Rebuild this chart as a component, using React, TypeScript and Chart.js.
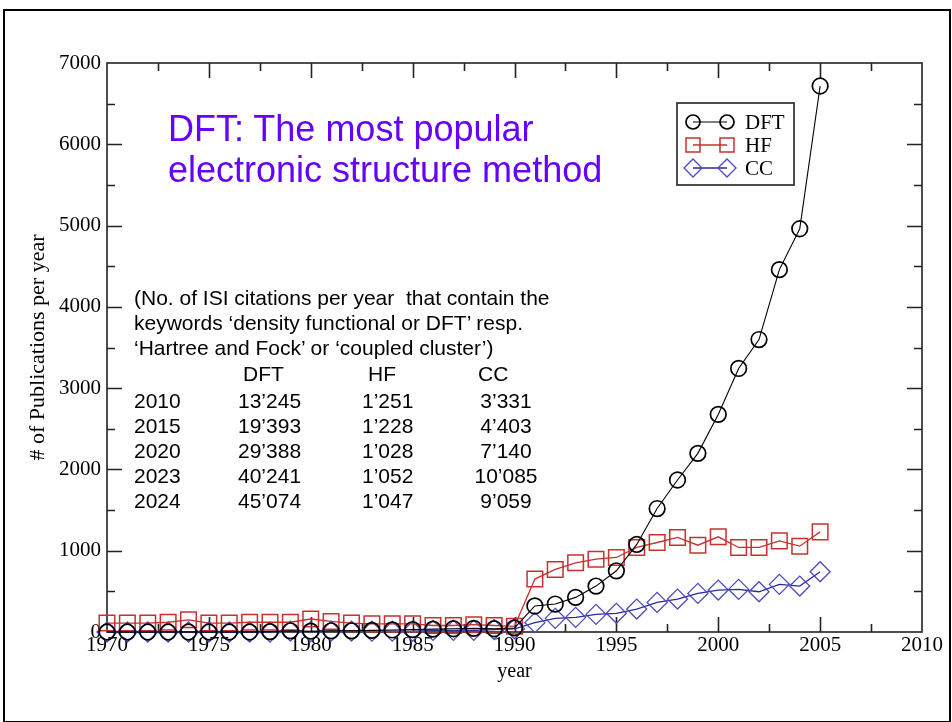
import React, { useEffect, useRef } from 'react';
import { Chart, registerables } from 'chart.js';

Chart.register(...registerables);

// ---------- data ----------
const years = [
  1970, 1971, 1972, 1973, 1974, 1975, 1976, 1977, 1978, 1979,
  1980, 1981, 1982, 1983, 1984, 1985, 1986, 1987, 1988, 1989,
  1990, 1991, 1992, 1993, 1994, 1995, 1996, 1997, 1998, 1999,
  2000, 2001, 2002, 2003, 2004, 2005,
];
const dftValues = [
  0, 0, 0, 0, 0, 0, 0, 0, 5, 15,
  10, 15, 15, 20, 25, 30, 35, 40, 45, 40,
  50, 320, 344, 426, 565, 753, 1077, 1519, 1870, 2198,
  2677, 3242, 3598, 4458, 4961, 6717,
];
const hfValues = [
  110, 110, 110, 120, 150, 110, 110, 120, 120, 120,
  160, 130, 110, 100, 100, 100, 80, 80, 90, 80,
  70, 651, 770, 851, 896, 917, 1040, 1101, 1163, 1068,
  1171, 1040, 1040, 1121, 1056, 1232,
];
const ccValues = [
  0, 0, 0, 0, 0, 0, 0, 0, 0, 10,
  5, 10, 10, 10, 10, 10, 20, 20, 20, 30,
  40, 115, 168, 180, 217, 230, 282, 364, 405, 475,
  516, 524, 495, 586, 565, 741,
];
const seriesNames = ['DFT', 'HF', 'CC'];
const xTickValues = [1970, 1975, 1980, 1985, 1990, 1995, 2000, 2005, 2010];
const yTickValues = [0, 1000, 2000, 3000, 4000, 5000, 6000, 7000];
const xMinorStep = 2.5;
const yMinorStep = 500;

const titleLines = ['DFT: The most popular', 'electronic structure method'];
const noteLines = [
  '(No. of ISI citations per year  that contain the',
  'keywords \u2018density functional or DFT\u2019 resp.',
  '\u2018Hartree and Fock\u2019 or \u2018coupled cluster\u2019)',
];
const tableHeader = ['DFT', 'HF', 'CC'];
const tableYears = ['2010', '2015', '2020', '2023', '2024'];
const tableDFT = ['13\u2019245', '19\u2019393', '29\u2019388', '40\u2019241', '45\u2019074'];
const tableHF = ['1\u2019251', '1\u2019228', '1\u2019028', '1\u2019052', '1\u2019047'];
const tableCC = ['3\u2019331', '4\u2019403', '7\u2019140', '10\u2019085', '9\u2019059'];

// ---------- styles ----------
const SERIF = '"Liberation Serif", "Times New Roman", Times, serif';
const SANS = '"Liberation Sans", Arial, Helvetica, sans-serif';
const RED = '#c83030';
const BLUE = '#2a2a9c';

const framePlugin = {
  id: 'frameTicks',
  beforeDatasetsDraw(chart: any) {
    const { ctx, chartArea, scales } = chart;
    const { left, right, top, bottom } = chartArea;
    const x = scales.x;
    const y = scales.y;
    ctx.save();
    ctx.strokeStyle = '#222';
    ctx.lineWidth = 1.6;
    ctx.strokeRect(left, top, right - left, bottom - top);
    ctx.beginPath();
    for (let v = x.min + xMinorStep; v < x.max - 0.01; v += xMinorStep) {
      const px = Math.round(x.getPixelForValue(v)) + 0.5;
      const len = Math.abs(v % 5) < 0.01 ? 15 : 8;
      ctx.moveTo(px, bottom);
      ctx.lineTo(px, bottom - len);
      ctx.moveTo(px, top);
      ctx.lineTo(px, top + len);
    }
    for (let v = y.min + yMinorStep; v < y.max - 0.01; v += yMinorStep) {
      const py = Math.round(y.getPixelForValue(v)) + 0.5;
      const len = v % 1000 === 0 ? 15 : 8;
      ctx.moveTo(left, py);
      ctx.lineTo(left + len, py);
      ctx.moveTo(right, py);
      ctx.lineTo(right - len, py);
    }
    ctx.stroke();
    ctx.restore();
  },
};

function drawMarker(ctx: CanvasRenderingContext2D, style: string, cx: number, cy: number, r: number) {
  ctx.beginPath();
  if (style === 'circle') {
    ctx.arc(cx, cy, r, 0, Math.PI * 2);
  } else if (style === 'rect') {
    const s = r * Math.SQRT1_2;
    ctx.rect(cx - s, cy - s, 2 * s, 2 * s);
  } else {
    ctx.moveTo(cx - r, cy);
    ctx.lineTo(cx, cy - r);
    ctx.lineTo(cx + r, cy);
    ctx.lineTo(cx, cy + r);
    ctx.closePath();
  }
  ctx.stroke();
}

const legendPlugin = {
  id: 'boxLegend',
  afterDraw(chart: any) {
    const { ctx } = chart;
    const bx = 677, by = 103, bw = 117, bh = 82;
    ctx.save();
    ctx.fillStyle = '#fff';
    ctx.fillRect(bx, by, bw, bh);
    ctx.strokeStyle = '#222';
    ctx.lineWidth = 1.6;
    ctx.strokeRect(bx, by, bw, bh);
    chart.data.datasets.forEach((ds: any, i: number) => {
      const cy = by + 19 + i * 23;
      const x1 = bx + 16, x2 = bx + 50;
      ctx.strokeStyle = ds.borderColor;
      ctx.lineWidth = ds.borderWidth;
      ctx.beginPath();
      ctx.moveTo(x1, cy);
      ctx.lineTo(x2, cy);
      ctx.stroke();
      ctx.strokeStyle = ds.pointBorderColor;
      ctx.lineWidth = ds.pointBorderWidth;
      const r = ds.pointRadius * 0.9;
      drawMarker(ctx, ds.pointStyle, x1, cy, r);
      drawMarker(ctx, ds.pointStyle, x2, cy, r);
      ctx.fillStyle = '#000';
      ctx.font = `21px ${SERIF}`;
      ctx.textBaseline = 'middle';
      ctx.textAlign = 'left';
      ctx.fillText(ds.label, bx + 68, cy + 1);
    });
    ctx.restore();
  },
};

export default function App() {
  const canvasRef = useRef<HTMLCanvasElement>(null);

  useEffect(() => {
    const canvas = canvasRef.current;
    if (!canvas) return;
    const mk = (vals: number[]) => years.map((yr, i) => ({ x: yr, y: vals[i] }));
    const chart = new Chart(canvas, {
      type: 'scatter',
      data: {
        datasets: [
          {
            label: seriesNames[0],
            data: mk(dftValues),
            showLine: true,
            borderColor: '#000',
            borderWidth: 1.1,
            pointStyle: 'circle',
            pointRadius: 7.8,
            pointBorderColor: '#000',
            pointBackgroundColor: 'rgba(0,0,0,0)',
            pointBorderWidth: 1.7,
            clip: false,
          },
          {
            label: seriesNames[1],
            data: mk(hfValues),
            showLine: true,
            borderColor: RED,
            borderWidth: 1.3,
            pointStyle: 'rect',
            pointRadius: 11,
            pointBorderColor: RED,
            pointBackgroundColor: 'rgba(0,0,0,0)',
            pointBorderWidth: 1.5,
            clip: false,
          },
          {
            label: seriesNames[2],
            data: mk(ccValues),
            showLine: true,
            borderColor: BLUE,
            borderWidth: 1.3,
            pointStyle: 'rectRot',
            pointRadius: 10,
            pointBorderColor: '#4a4ac0',
            pointBackgroundColor: 'rgba(0,0,0,0)',
            pointBorderWidth: 1.3,
            clip: false,
          },
        ] as any,
      },
      options: {
        animation: false,
        responsive: false,
        maintainAspectRatio: false,
        devicePixelRatio: 1,
        layout: { padding: { left: 0, right: 30, top: 63, bottom: 0 } },
        plugins: {
          legend: { display: false },
          tooltip: { enabled: false },
        },
        scales: {
          x: {
            type: 'linear',
            min: xTickValues[0],
            max: xTickValues[xTickValues.length - 1],
            afterBuildTicks: (s: any) => {
              s.ticks = xTickValues.map((v) => ({ value: v }));
            },
            afterFit: (s: any) => {
              s.height = 90;
            },
            grid: { display: false, drawTicks: false },
            border: { display: false },
            ticks: {
              padding: 1,
              color: '#000',
              maxRotation: 0,
              autoSkip: false,
              font: { family: SERIF, size: 21 },
              callback: (v: any) => String(v),
            },
            title: {
              display: true,
              text: 'year',
              color: '#000',
              font: { family: SERIF, size: 20 },
              padding: { top: 0, bottom: 38 },
            },
          },
          y: {
            type: 'linear',
            min: yTickValues[0],
            max: yTickValues[yTickValues.length - 1],
            afterBuildTicks: (s: any) => {
              s.ticks = yTickValues.map((v) => ({ value: v }));
            },
            afterFit: (s: any) => {
              s.width = 107;
            },
            grid: { display: false, drawTicks: false },
            border: { display: false },
            ticks: {
              padding: 6,
              color: '#000',
              autoSkip: false,
              font: { family: SERIF, size: 21 },
              callback: (v: any) => String(v),
            },
            title: {
              display: true,
              text: '# of Publications per year',
              color: '#000',
              font: { family: SERIF, size: 22 },
              padding: { top: 25, bottom: 0 },
            },
          },
        },
      } as any,
      plugins: [framePlugin, legendPlugin],
    });
    return () => chart.destroy();
  }, []);

  const abs = (left: number, top: number, extra: any = {}) => ({
    position: 'absolute' as const,
    left,
    top,
    whiteSpace: 'pre' as const,
    ...extra,
  });

  const noteFont = { fontFamily: SANS, fontSize: 21, lineHeight: '25px', color: '#000' };
  const noteTops = [285, 310, 335];
  const headerTop = 361;
  const rowTops = [388, 413, 438, 463, 488];

  return (
    <div style={{ position: 'absolute', left: 0, top: 0, width: 952, height: 722, background: '#fff', overflow: 'hidden' }}>
      <canvas ref={canvasRef} width={952} height={722} style={{ position: 'absolute', left: 0, top: 0, width: 952, height: 722 }} />
      <div style={{ position: 'absolute', left: 3, top: 9, width: 944, height: 710, border: '2px solid #000', pointerEvents: 'none' }} />
      {titleLines.map((t, i) => (
        <div key={'t' + i} style={abs(168, 108 + i * 41, { fontFamily: SANS, fontSize: 36, lineHeight: '41px', color: '#6600ff' })}>
          {t}
        </div>
      ))}
      {noteLines.map((t, i) => (
        <div key={'n' + i} style={abs(134, noteTops[i], noteFont)}>
          {t}
        </div>
      ))}
      <div style={abs(243, headerTop, noteFont)}>{tableHeader[0]}</div>
      <div style={abs(368, headerTop, noteFont)}>{tableHeader[1]}</div>
      <div style={abs(478, headerTop, noteFont)}>{tableHeader[2]}</div>
      {tableYears.map((yr, i) => (
        <React.Fragment key={'r' + i}>
          <div style={abs(134, rowTops[i], noteFont)}>{yr}</div>
          <div style={abs(238, rowTops[i], noteFont)}>{tableDFT[i]}</div>
          <div style={abs(362, rowTops[i], noteFont)}>{tableHF[i]}</div>
          <div style={abs(456, rowTops[i], { ...noteFont, width: 100, textAlign: 'center' })}>{tableCC[i]}</div>
        </React.Fragment>
      ))}
    </div>
  );
}
